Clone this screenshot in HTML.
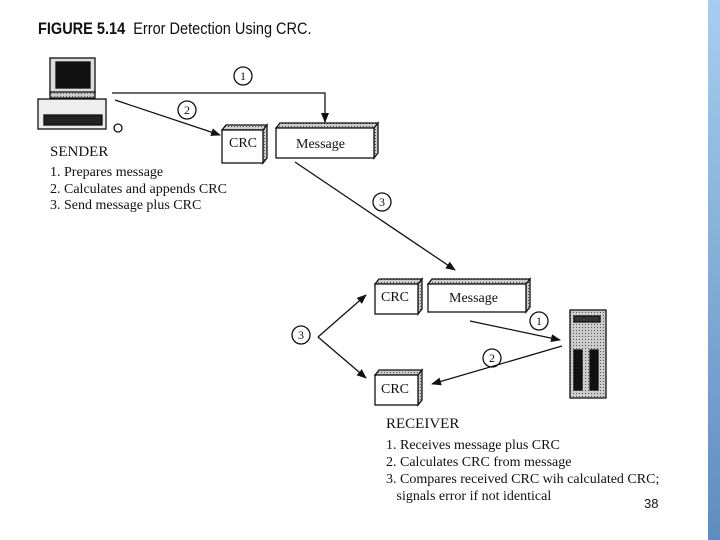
<!DOCTYPE html>
<html><head><style>
body{margin:0;width:720px;height:540px;background:#fff;overflow:hidden;position:relative;font-family:"Liberation Serif",serif;}
.t{position:absolute;white-space:nowrap;color:#111;}
</style></head><body>
<div style="position:absolute;left:708px;top:0;width:12px;height:540px;background:linear-gradient(#a8cdf0,#5f8cc0);"></div>
<svg width="720" height="540" style="position:absolute;left:0;top:0">
<defs><marker id="a" markerWidth="10" markerHeight="8" refX="9" refY="4" orient="auto" markerUnits="userSpaceOnUse"><path d="M0,0L10,4L0,8z" fill="#111"/></marker>
<pattern id="g" width="3" height="3" patternUnits="userSpaceOnUse"><rect width="3" height="3" fill="#ccc"/><rect width="1" height="1" fill="#555"/></pattern></defs>
<g fill="none" stroke="#111" stroke-width="1.3">
<rect x="50" y="58" width="45" height="36" fill="#ddd"/><rect x="56" y="62" width="34" height="26" fill="#111"/>
<rect x="50" y="92" width="45" height="6" fill="url(#g)"/>
<rect x="38" y="99" width="68" height="30" fill="#eee"/>
<rect x="44" y="115" width="58" height="10" fill="#222"/>
<circle cx="118" cy="128" r="4"/>
<polyline points="112,93 325,93 325,122" marker-end="url(#a)"/>
<line x1="115" y1="100" x2="220" y2="135" marker-end="url(#a)"/>
<circle cx="243" cy="76" r="9"/><circle cx="187" cy="110" r="9"/>
<path d="M222,130 l4,-5 h41 l-4,5z M263,130 l4,-5 v33 l-4,5z" fill="url(#g)"/>
<rect x="222" y="130" width="41" height="33" fill="#fff"/>
<path d="M276,128 l4,-5 h98 l-4,5z M374,128 l4,-5 v30 l-4,5z" fill="url(#g)"/>
<rect x="276" y="128" width="98" height="30" fill="#fff"/>
<line x1="295" y1="162" x2="455" y2="270" marker-end="url(#a)"/>
<circle cx="382" cy="202" r="9"/>
<path d="M375,284 l4,-5 h43 l-4,5z M418,284 l4,-5 v30 l-4,5z" fill="url(#g)"/>
<rect x="375" y="284" width="43" height="30" fill="#fff"/>
<path d="M428,284 l4,-5 h98 l-4,5z M526,284 l4,-5 v28 l-4,5z" fill="url(#g)"/>
<rect x="428" y="284" width="98" height="28" fill="#fff"/>
<path d="M375,375 l4,-5 h43 l-4,5z M418,375 l4,-5 v30 l-4,5z" fill="url(#g)"/>
<rect x="375" y="375" width="43" height="30" fill="#fff"/>
<line x1="470" y1="321" x2="560" y2="340" marker-end="url(#a)"/>
<line x1="562" y1="346" x2="432" y2="384" marker-end="url(#a)"/>
<circle cx="539" cy="321" r="9"/><circle cx="492" cy="358" r="9"/>
<circle cx="301" cy="335" r="9"/>
<line x1="318" y1="337" x2="366" y2="295" marker-end="url(#a)"/>
<line x1="318" y1="337" x2="366" y2="378" marker-end="url(#a)"/>
<rect x="570" y="310" width="36" height="88" fill="url(#g)"/>
<rect x="574" y="350" width="8" height="40" fill="#111"/><rect x="590" y="350" width="8" height="40" fill="#111"/>
<rect x="574" y="316" width="26" height="6" fill="#333"/>
</g>
<g font-family="Liberation Serif,serif" font-size="12" fill="#111" text-anchor="middle">
<text x="243" y="80">1</text><text x="187" y="114">2</text><text x="382" y="206">3</text>
<text x="539" y="325">1</text><text x="492" y="362">2</text><text x="301" y="339">3</text>
</g>
<g font-family="Liberation Serif,serif" font-size="14" fill="#111">
<text x="229" y="147">CRC</text><text x="296" y="148">Message</text>
<text x="381" y="301">CRC</text><text x="449" y="302">Message</text>
<text x="381" y="393">CRC</text>
</g>
</svg>
<div class="t" style="left:38px;top:20px;font:bold 16.5px 'Liberation Sans',sans-serif;transform:scaleX(.88);transform-origin:left;">FIGURE 5.14 <span style="font-weight:normal">&nbsp;Error Detection Using CRC.</span></div>
<div class="t" style="left:50px;top:144px;font-size:15px;">SENDER</div>
<div class="t" style="left:50px;top:165px;font-size:14px;line-height:16.5px;">1. Prepares message<br>2. Calculates and appends CRC<br>3. Send message plus CRC</div>
<div class="t" style="left:386px;top:416px;font-size:15px;">RECEIVER</div>
<div class="t" style="left:386px;top:437px;font-size:14px;line-height:17px;">1. Receives message plus CRC<br>2. Calculates CRC from message<br>3. Compares received CRC wih calculated CRC;<br>&nbsp;&nbsp;&nbsp;signals error if not identical</div>
<div class="t" style="left:644px;top:496px;font:13px 'Liberation Sans',sans-serif;">38</div>
</body></html>
